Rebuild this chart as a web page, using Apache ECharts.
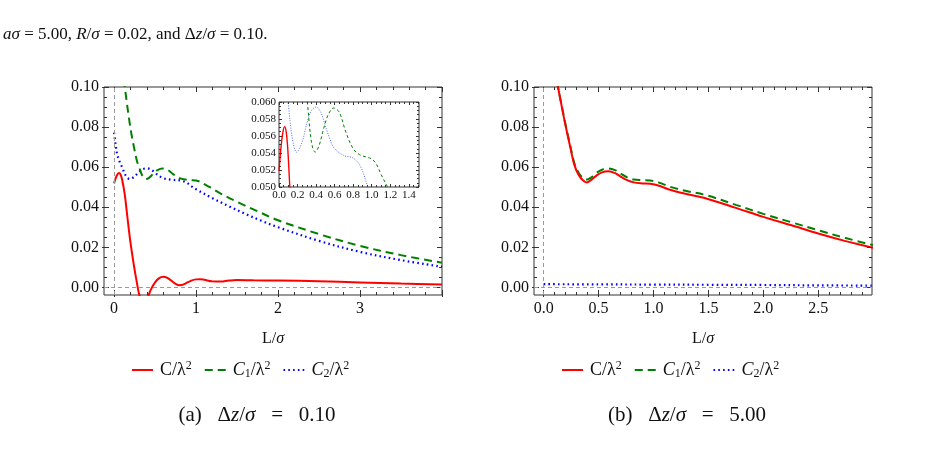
<!DOCTYPE html>
<html><head><meta charset="utf-8">
<script src="https://cdn.jsdelivr.net/npm/echarts@6/dist/echarts.min.js"></script>
<style>html,body{margin:0;padding:0;background:#fff}#c{width:943px;height:458px}</style>
</head><body><div id="c"></div>
<script>
// ---------- data: panel (a) Δz/σ = 0.10 ----------
const aRedX = [0, 0.02, 0.04, 0.06, 0.08, 0.1, 0.13, 0.16, 0.2, 0.25, 0.28, 0.31, 0.36, 0.41, 0.45, 0.5, 0.55, 0.6, 0.65, 0.7, 0.75, 0.8, 0.85, 0.9, 0.95, 1.0, 1.05, 1.1, 1.2, 1.3, 1.4, 1.5, 1.7, 2.0, 2.5, 3.0, 3.5, 4.0];
const aRedY = [0.0519, 0.0545, 0.0563, 0.0571, 0.0563, 0.0535, 0.0465, 0.036, 0.0225, 0.009, 0.002, -0.004, -0.0085, -0.005, -0.001, 0.0025, 0.0046, 0.0053, 0.0047, 0.0033, 0.0018, 0.0011, 0.0015, 0.0026, 0.0035, 0.0040, 0.0041, 0.0038, 0.0030, 0.0029, 0.0034, 0.0037, 0.0035, 0.0034, 0.0031, 0.0025, 0.0019, 0.0015];
const aC1X = [0.12, 0.15, 0.18, 0.21, 0.25, 0.28, 0.31, 0.35, 0.39, 0.43, 0.48, 0.53, 0.59, 0.65, 0.72, 0.8, 0.87, 0.95, 1.0, 1.05, 1.1, 1.17, 1.3, 1.5, 1.75, 2.0, 2.5, 3.0, 3.5, 4.0];
const aC1Y = [0.104, 0.094, 0.085, 0.077, 0.0685, 0.063, 0.0595, 0.0553, 0.0541, 0.0548, 0.0568, 0.0585, 0.0593, 0.0588, 0.0565, 0.0545, 0.0538, 0.0535, 0.0533, 0.0527, 0.0515, 0.0500, 0.0468, 0.0427, 0.0380, 0.0335, 0.0266, 0.0207, 0.0161, 0.0123];
const aC2X = [0, 0.02, 0.04, 0.07, 0.1, 0.14, 0.19, 0.25, 0.3, 0.35, 0.4, 0.45, 0.5, 0.55, 0.6, 0.7, 0.8, 0.88, 0.95, 1.0, 1.2, 1.4, 1.6, 1.8, 2.0, 2.5, 3.0, 3.5, 4.0];
const aC2Y = [0.0772, 0.071, 0.066, 0.0625, 0.0598, 0.0560, 0.0541, 0.0553, 0.0575, 0.0590, 0.0594, 0.0588, 0.0572, 0.0556, 0.0545, 0.0537, 0.0534, 0.0524, 0.0503, 0.0490, 0.0445, 0.0405, 0.0367, 0.0332, 0.0300, 0.0232, 0.0177, 0.0136, 0.0103];

// ---------- data: panel (b) Δz/σ = 5.00 ----------
const bX = [0.1, 0.13, 0.16, 0.2, 0.24, 0.28, 0.32, 0.36, 0.39, 0.43, 0.48, 0.53, 0.59, 0.65, 0.7, 0.76, 0.82, 0.9, 0.97, 1.05, 1.15, 1.3, 1.48, 1.75, 2.0, 2.25, 2.5, 2.75, 3.0];
const bRedY = [0.109, 0.100, 0.0915, 0.0805, 0.0705, 0.0610, 0.0560, 0.0533, 0.0524, 0.0535, 0.0558, 0.0574, 0.0579, 0.0570, 0.0553, 0.0535, 0.0524, 0.0519, 0.0517, 0.0507, 0.0487, 0.0466, 0.0444, 0.0397, 0.0352, 0.0311, 0.0269, 0.0231, 0.0198];
const bC1Y = [0.109, 0.100, 0.0918, 0.081, 0.0712, 0.0618, 0.0570, 0.0545, 0.0538, 0.0548, 0.0571, 0.0587, 0.0593, 0.0585, 0.0568, 0.0549, 0.0538, 0.0535, 0.0533, 0.0523, 0.0502, 0.0481, 0.0460, 0.0412, 0.0367, 0.0326, 0.0285, 0.0246, 0.0211];
const bC2X = [0, 0.5, 1.0, 1.5, 2.0, 2.5, 3.0];
const bC2Y = [0.0016, 0.0015, 0.0014, 0.0013, 0.0012, 0.0010, 0.0009];

// ---------- ticks ----------
const yTicks = [0, 0.02, 0.04, 0.06, 0.08, 0.10];
const aXTicks = [0, 1, 2, 3];
const bXTicks = [0, 0.5, 1.0, 1.5, 2.0, 2.5];
const inXTicks = [0, 0.2, 0.4, 0.6, 0.8, 1.0, 1.2, 1.4];
const inYTicks = [0.050, 0.052, 0.054, 0.056, 0.058, 0.060];

const seriesNames = ['C', 'C1', 'C2'];
const legendLabels = {C: '{r|C/λ}{sup|2}', C1: '{i|C}{sub|1}{r|/λ}{sup|2}', C2: '{i|C}{sub|2}{r|/λ}{sup|2}'};

const FONT = '"Liberation Serif", "Times New Roman", serif';
const FRAME = '#333';

function range(a, b, step, skip) {
  const out = [];
  const n = Math.round((b - a) / step);
  for (let i = 0; i <= n; i++) {
    const v = +(a + i * step).toFixed(6);
    if (!skip || Math.abs(Math.round(v / skip) * skip - v) > 1e-9) out.push(v);
  }
  return out;
}

const xAxes = [], yAxes = [];
function addAxes(list, dim, grid, min, max, major, minor, lab, len, z) {
  const pos = dim === 'x' ? ['bottom', 'top'] : ['left', 'right'];
  const idx = list.length;
  const mk = (p, vals, l, withLabel, inside) => {
    const ax = {
      type: 'value', gridIndex: grid, min: min, max: max, position: p, z: z,
      splitLine: {show: false}, axisLine: {show: false, onZero: false},
      axisTick: {show: true, inside: inside, length: l, customValues: vals, lineStyle: {color: FRAME, width: 1}},
      axisLabel: {show: false}
    };
    if (withLabel) {
      ax.axisLabel = {show: true, customValues: lab.values, formatter: lab.fmt, margin: lab.margin,
        fontFamily: FONT, fontSize: lab.size, color: '#111'};
      if (lab.name) {
        Object.assign(ax, {name: lab.name, nameLocation: 'middle', nameGap: lab.nameGap,
          nameTextStyle: {rich: {
            r: {fontFamily: FONT, fontSize: 16, color: '#111'},
            i: {fontFamily: FONT, fontSize: 16, fontStyle: 'italic', color: '#111'}}}});
      }
    }
    return ax;
  };
  list.push(mk(pos[0], major, len[0], true, true));
  list.push(mk(pos[0], minor, len[1], false, true));
  list.push(mk(pos[1], major, len[0], false, true));
  list.push(mk(pos[1], minor, len[1], false, true));
  if (len[2]) list.push(mk(pos[0], major, len[2], false, false));
  return idx;
}

const yMin = -0.0038, yMax = 0.10;
const yMinor = range(0, 0.10, 0.005, 0.02);
const f2 = v => v.toFixed(2);

// grid 0: panel a
const ax0 = addAxes(xAxes, 'x', 0, -0.1227, 4.0, aXTicks.concat([4]), range(0, 4, 0.2, 1),
  {values: aXTicks, fmt: v => String(v), margin: 6, size: 16, name: '{r|L/}{i|σ}', nameGap: 36}, [5, 3, 2], 3);
const ay0 = addAxes(yAxes, 'y', 0, yMin, yMax, yTicks, yMinor,
  {values: yTicks, fmt: f2, margin: 5, size: 16}, [5, 3, 2], 3);
// grid 1: panel b
const ax1 = addAxes(xAxes, 'x', 1, -0.0883, 2.99, bXTicks, range(0, 2.9, 0.1, 0.5),
  {values: bXTicks, fmt: v => v.toFixed(1), margin: 6, size: 16, name: '{r|L/}{i|σ}', nameGap: 36}, [5, 3, 2], 3);
const ay1 = addAxes(yAxes, 'y', 1, yMin, yMax, yTicks, yMinor,
  {values: yTicks, fmt: f2, margin: 5, size: 16}, [5, 3, 2], 3);
// grid 2: inset
const ax2 = addAxes(xAxes, 'x', 2, 0, 1.51, inXTicks, range(0, 1.5, 0.05, 0.2),
  {values: inXTicks, fmt: v => v.toFixed(1), margin: 3, size: 11}, [3, 2], 12);
const ay2 = addAxes(yAxes, 'y', 2, 0.050, 0.060, inYTicks, range(0.050, 0.060, 0.0005, 0.002),
  {values: inYTicks, fmt: v => v.toFixed(3), margin: 3, size: 11}, [3, 2], 12);

const pairs = (xs, ys) => xs.map((x, i) => [x, ys[i]]);
const RED = '#ff0000', GREEN = '#008000', BLUE = '#0000ff';

function line(name, xi, yi, data, color, width, type, z) {
  return {type: 'line', name: name, xAxisIndex: xi, yAxisIndex: yi, data: data,
    showSymbol: false, symbol: 'none', smooth: 0.35, z: z, silent: true,
    lineStyle: {color: color, width: width, type: type}, itemStyle: {color: color},
    emphasis: {disabled: true}, animation: false};
}
function guides(xi, yi) {
  return {type: 'line', xAxisIndex: xi, yAxisIndex: yi, data: [], z: 1, silent: true, animation: false,
    markLine: {silent: true, symbol: ['none', 'none'], label: {show: false}, animation: false,
      lineStyle: {color: '#9a9a9a', width: 1, type: [4, 3]},
      data: [{xAxis: 0}, {yAxis: 0}]}};
}

const series = [
  guides(ax0, ay0),
  line('C2', ax0, ay0, pairs(aC2X, aC2Y), BLUE, 2.2, [1.6, 3.2], 2),
  line('C1', ax0, ay0, pairs(aC1X, aC1Y), GREEN, 2, [8, 5], 2),
  line('C', ax0, ay0, pairs(aRedX, aRedY), RED, 2, 'solid', 2),
  guides(ax1, ay1),
  line('C2', ax1, ay1, pairs(bC2X, bC2Y), BLUE, 2.2, [1.6, 3.2], 2),
  line('C1', ax1, ay1, pairs(bX, bC1Y), GREEN, 2, [8, 5], 2),
  line('C', ax1, ay1, pairs(bX, bRedY), RED, 2, 'solid', 2),
  line('in2', ax2, ay2, pairs(aC2X, aC2Y), '#5566ff', 1, [1, 1.5], 11),
  line('in1', ax2, ay2, pairs(aC1X, aC1Y), GREEN, 1, [3, 2.5], 11),
  line('in0', ax2, ay2, pairs(aRedX, aRedY), RED, 1.4, 'solid', 11)
];

const legendRich = {
  r: {fontFamily: FONT, fontSize: 18, color: '#111', lineHeight: 20, verticalAlign: 'middle'},
  i: {fontFamily: FONT, fontSize: 18, fontStyle: 'italic', color: '#111', lineHeight: 20, verticalAlign: 'middle'},
  sup: {fontFamily: FONT, fontSize: 12, color: '#111', lineHeight: 20, verticalAlign: 'top'},
  sub: {fontFamily: FONT, fontSize: 12, color: '#111', lineHeight: 20, verticalAlign: 'bottom'}
};
function legend(left) {
  return {left: left, top: 360, padding: 0, itemWidth: 21, itemHeight: 14, itemGap: 12,
    selectedMode: false, data: seriesNames, formatter: n => legendLabels[n],
    itemStyle: {opacity: 0},
    textStyle: {rich: legendRich, padding: [0, 0, 0, 2]}};
}

function textEl(x, y, txt, align, size) {
  const rich = {
    r: {fontFamily: FONT, fontSize: size, fill: '#111'},
    i: {fontFamily: FONT, fontSize: size, fontStyle: 'italic', fill: '#111'}
  };
  return {type: 'text', x: x, y: y, silent: true,
    style: {text: txt, rich: rich, textAlign: align, textVerticalAlign: 'middle', fontFamily: FONT, fontSize: size, fill: '#111'}};
}

const option = {
  backgroundColor: '#fff',
  animation: false,
  grid: [
    {left: 104, top: 87, right: 501, bottom: 163, show: true, borderColor: FRAME, borderWidth: 1, backgroundColor: 'transparent', z: 0},
    {left: 534, top: 87, right: 71, bottom: 163, show: true, borderColor: FRAME, borderWidth: 1, backgroundColor: 'transparent', z: 0},
    {left: 279, top: 102, right: 524, bottom: 271, show: true, borderColor: FRAME, borderWidth: 1, backgroundColor: '#fff', z: 10}
  ],
  xAxis: xAxes,
  yAxis: yAxes,
  legend: [legend(131), legend(561)],
  series: series,
  graphic: [
    textEl(3, 35, '{i|aσ}{r| = 5.00, }{i|R}{r|/}{i|σ}{r| = 0.02, and Δ}{i|z}{r|/}{i|σ}{r| = 0.10.}', 'left', 17),
    textEl(257, 415, '{r|(a)   Δ}{i|z}{r|/}{i|σ}{r|   =   0.10}', 'center', 21),
    textEl(687, 415, '{r|(b)   Δ}{i|z}{r|/}{i|σ}{r|   =   5.00}', 'center', 21)
  ]
};

const chart = echarts.init(document.getElementById('c'), null, {renderer: 'canvas'});
chart.setOption(option);
</script>
</body></html>
